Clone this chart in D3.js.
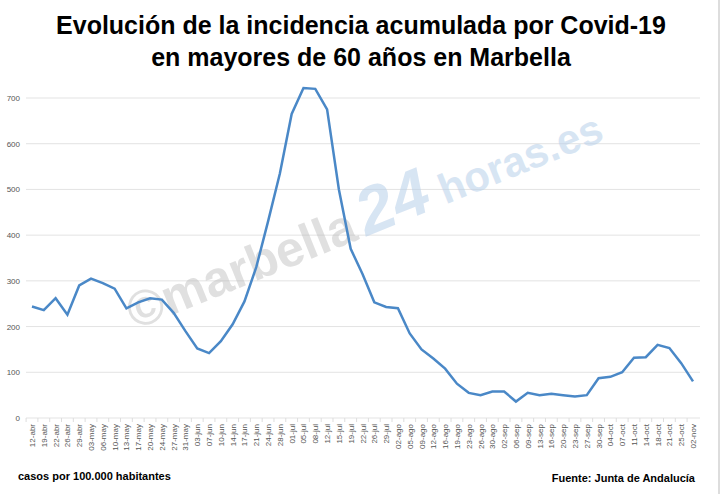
<!DOCTYPE html>
<html><head><meta charset="utf-8">
<script src="https://cdn.jsdelivr.net/npm/d3@7"></script>
<style>body{margin:0;background:#fff}svg{display:block}</style>
</head><body><svg id="c" width="722" height="494"></svg>
<script>
const categories=["12-abr","19-abr","22-abr","26-abr","29-abr","03-may","06-may","10-may","13-may","17-may","20-may","24-may","27-may","31-may","03-jun","07-jun","10-jun","14-jun","17-jun","21-jun","24-jun","28-jun","01-jul","05-jul","08-jul","12-jul","15-jul","19-jul","22-jul","26-jul","29-jul","02-ago","05-ago","09-ago","12-ago","16-ago","19-ago","23-ago","26-ago","30-ago","02-sep","06-sep","09-sep","13-sep","16-sep","20-sep","23-sep","27-sep","30-sep","04-oct","07-oct","11-oct","14-oct","18-oct","21-oct","25-oct","02-nov"];
const values=[244,236,262,226,290,305,295,283,240,253,262,259,230,190,152,142,168,205,255,330,430,535,665,722,720,675,500,370,315,253,243,240,185,150,130,108,75,55,50,58,58,36,55,50,53,50,47,50,87,90,100,132,133,160,153,120,80];
const yTicks=[0,100,200,300,400,500,600,700];
const svg=d3.select("#c");
const x=d3.scalePoint().domain(categories).range([32,693]);
const y=d3.scaleLinear().domain([0,700]).range([418,98]);
svg.append("line").attr("x1",719).attr("x2",719).attr("y1",0).attr("y2",494).attr("stroke","#bbb");
svg.append("g").selectAll("line").data(yTicks).join("line").attr("x1",26).attr("x2",700)
 .attr("y1",d=>y(d)).attr("y2",d=>y(d)).attr("stroke","#e3e3e3");
svg.append("g").selectAll("text").data(yTicks).join("text").attr("x",20).attr("y",d=>y(d)+3)
 .attr("text-anchor","end").attr("font-family","Liberation Sans,Arial").attr("font-size",8).attr("fill","#555").text(d=>d);
svg.append("g").selectAll("text").data(categories).join("text")
 .attr("transform",d=>`translate(${x(d)+3},${424}) rotate(-90)`).attr("text-anchor","end")
 .attr("font-family","Liberation Sans,Arial").attr("font-size",8).attr("fill","#555").text(d=>d);
svg.append("g").selectAll("line").data(categories).join("line").attr("x1",d=>x(d)-5.9).attr("x2",d=>x(d)-5.9)
 .attr("y1",418).attr("y2",422).attr("stroke","#ddd");
const wm=svg.append("g").attr("transform","translate(135,330) rotate(-22)").attr("font-family","Liberation Sans,Arial").attr("font-weight","bold");
wm.append("text").attr("font-size",50).attr("fill","#bbb").attr("opacity",0.45).text("©marbella");
wm.append("text").attr("x",250).attr("font-size",66).attr("font-style","italic").attr("fill","#b8d0ea").attr("opacity",0.55).text("24");
wm.append("text").attr("x",335).attr("font-size",42).attr("fill","#b8d0ea").attr("opacity",0.55).text("horas.es");
svg.append("path").datum(values).attr("fill","none").attr("stroke","#4a88c7").attr("stroke-width",2.5)
 .attr("d",d3.line().x((d,i)=>x(categories[i])).y(d=>y(d)));
const t=svg.append("g").attr("font-family","Liberation Sans,Arial").attr("font-weight","bold").attr("font-size",25).attr("text-anchor","middle");
t.append("text").attr("x",361).attr("y",34).text("Evolución de la incidencia acumulada por Covid-19");
t.append("text").attr("x",361).attr("y",66).text("en mayores de 60 años en Marbella");
svg.append("text").attr("x",18).attr("y",480).attr("font-family","Liberation Sans,Arial").attr("font-weight","bold").attr("font-size",11).text("casos por 100.000 habitantes");
svg.append("text").attr("x",695).attr("y",482).attr("text-anchor","end").attr("font-family","Liberation Sans,Arial").attr("font-weight","bold").attr("font-size",11).text("Fuente: Junta de Andalucía");
</script></body></html>
